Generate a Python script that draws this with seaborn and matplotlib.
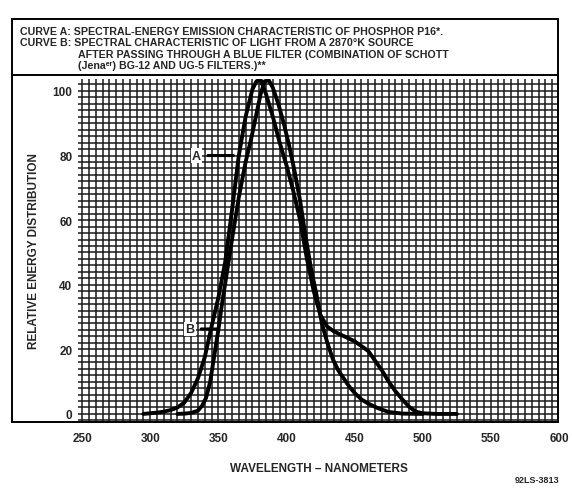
import matplotlib
matplotlib.use("Agg")
import pandas as pd
import matplotlib.pyplot as plt
import matplotlib.ticker as mticker
from matplotlib.patches import Rectangle
from matplotlib.lines import Line2D
import seaborn as sns

# ── Data ──────────────────────────────────────────────────
# curve A: phosphor P16 emission
wl_a = [295, 300, 305, 310, 315, 320, 325, 330, 335, 340, 345, 350, 355, 360,
        365, 370, 375, 378, 381, 385, 390, 395, 400, 405, 410, 415, 420, 425,
        430, 435, 440, 445, 450, 455, 460, 465, 470, 475, 480, 485, 490, 495,
        500, 510, 525]
en_a = [0, 0.2, 0.4, 0.7, 1.2, 2, 3.5, 6.5, 11, 17.5, 27, 36, 47, 63,
        80, 92, 100.5, 103, 103.5, 99, 92, 84, 77, 69, 60, 48, 38, 30.5,
        27, 25.5, 24.5, 23.5, 22.5, 21, 19.5, 16.5, 13.5, 10, 7, 4.5, 2.2, 0.7,
        0.2, 0, 0]

# curve B: 2870K source through BG-12 + UG-5 filters
wl_b = [320, 325, 330, 335, 338, 341, 344, 347, 350, 353, 356, 360, 365, 370,
        374, 378, 381, 384, 387, 390, 394, 398, 402, 406, 410, 414, 418, 422,
        426, 430, 434, 438, 442, 446, 450, 455, 460, 467, 475, 485, 500]
en_b = [0, 0.1, 0.3, 1, 2.5, 5, 10, 18, 26, 35, 43, 54, 67, 78,
        85, 93, 99, 103, 103.3, 101, 96, 90, 83, 75, 66, 55, 45, 37,
        28, 22, 17, 13.5, 11, 8.5, 6.5, 4.5, 3.2, 1.8, 0.6, 0.1, 0]

x_ticks = [250, 300, 350, 400, 450, 500, 550, 600]
y_ticks = [0, 20, 40, 60, 80, 100]

title_lines = [
    "CURVE A: SPECTRAL-ENERGY EMISSION CHARACTERISTIC OF PHOSPHOR P16*.",
    "CURVE B: SPECTRAL CHARACTERISTIC OF LIGHT FROM A 2870\u00b0K SOURCE",
    "AFTER PASSING THROUGH A BLUE FILTER (COMBINATION OF SCHOTT",
    "(Jena\u1d49\u02b3) BG-12 AND UG-5 FILTERS.)**",
]

curva_a = pd.DataFrame({"wl": wl_a, "energia": en_a})
curva_b = pd.DataFrame({"wl": wl_b, "energia": en_b})

# ── Estilo ───────────────────────────────────────────────
sns.set_theme(style="white")
plt.rcParams["font.family"] = ["Liberation Sans", "DejaVu Sans"]
plt.rcParams["font.weight"] = "bold"

fig = plt.figure(figsize=(5.72, 4.89), dpi=100)
ax = fig.add_axes([78 / 572, 66 / 489, 481 / 572, 343 / 489])

sns.lineplot(data=curva_a, x="wl", y="energia", sort=False, color="black",
             linewidth=2.8, ax=ax, zorder=5)
sns.lineplot(data=curva_b, x="wl", y="energia", sort=False, color="black",
             linewidth=2.8, ax=ax, zorder=5)

ax.set_xlim(247, 600)
ax.set_ylim(-2.5, 103.7)
ax.set_xticks(x_ticks)
ax.set_yticks(y_ticks)
ax.xaxis.set_minor_locator(mticker.MultipleLocator(5))
ax.yaxis.set_minor_locator(mticker.MultipleLocator(2))
ax.grid(which="both", color="#1a1a1a", linewidth=1.1)
ax.set_axisbelow(True)
ax.tick_params(which="both", length=0, labelsize=8.5)
ax.tick_params(axis="x", pad=7)
ax.tick_params(axis="y", pad=4)
for lbl in ax.get_xticklabels() + ax.get_yticklabels():
    lbl.set_fontweight("bold")
for s in ax.spines.values():
    s.set_visible(False)

ax.set_xlabel("WAVELENGTH \u2013 NANOMETERS", fontsize=8.5, fontweight="bold",
              labelpad=13)
ax.set_ylabel("RELATIVE ENERGY DISTRIBUTION", fontsize=8.5, fontweight="bold",
              labelpad=9)

# rótulos das curvas
ax.annotate("A", xy=(361, 80), xytext=(334, 80), fontsize=9, fontweight="bold",
            va="center", ha="center", zorder=6,
            bbox=dict(facecolor="white", edgecolor="none", pad=1),
            arrowprops=dict(arrowstyle="-", color="black", lw=2.2,
                            shrinkA=4, shrinkB=0))
ax.annotate("B", xy=(350, 26.3), xytext=(329, 26.3), fontsize=9, fontweight="bold",
            va="center", ha="center", zorder=6,
            bbox=dict(facecolor="white", edgecolor="none", pad=1),
            arrowprops=dict(arrowstyle="-", color="black", lw=2.2,
                            shrinkA=4, shrinkB=0))

# ── Moldura e texto do cabeçalho ─────────────────────────
fig.patches.append(Rectangle((12 / 572, 66 / 489), 546 / 572, 403 / 489,
                             transform=fig.transFigure, fill=False,
                             edgecolor="black", linewidth=1.4))
fig.lines.append(Line2D([12 / 572, 558 / 572], [1 - 76 / 489, 1 - 76 / 489],
                        transform=fig.transFigure, color="black", linewidth=1.4))

ys = [32, 43, 55, 66]
xs = [20, 20, 78, 78]
for txt, x, y in zip(title_lines, xs, ys):
    fig.text(x / 572, 1 - y / 489, txt, fontsize=7.7, fontweight="bold",
             va="center", ha="left")

fig.text(537 / 572, 1 - 481 / 489, "92LS-3813", fontsize=6.5,
         fontweight="bold", ha="center", va="center")

plt.savefig("out.png", dpi=100)
